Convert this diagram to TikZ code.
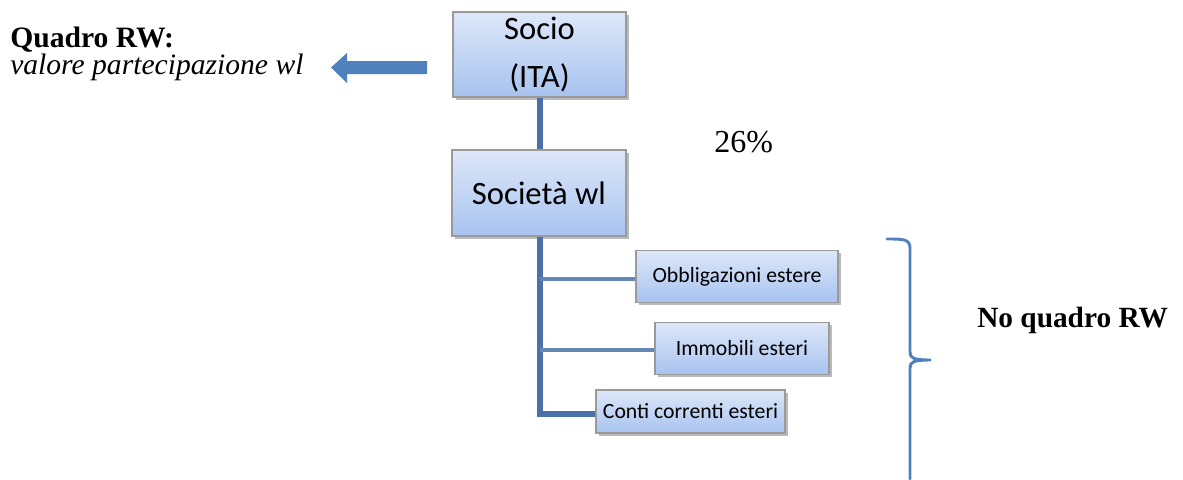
\documentclass[tikz,border=0pt]{standalone}
\usepackage{fontspec}
\setmainfont{Liberation Serif}
\newfontfamily\boxfont{Carlito}
\usetikzlibrary{shadows}
\definecolor{linkblue}{HTML}{4A72A8}
\definecolor{arrowblue}{HTML}{4F81BD}
\definecolor{boxtop}{HTML}{DDE7F9}
\definecolor{boxbot}{HTML}{A8C3F0}
\definecolor{boxline}{HTML}{9A9A9A}
\tikzset{
  orgbox/.style={draw=boxline, line width=0.8pt, top color=boxtop, bottom color=boxbot,
    drop shadow={shadow xshift=2pt, shadow yshift=-2pt, fill=black!45, opacity=0.6},
    inner sep=0pt, font=\boxfont},
  bigtxt/.style={font=\boxfont\fontsize{24.5}{36}\selectfont},
  smalltxt/.style={font=\boxfont\fontsize{16.3}{19}\selectfont},
  link/.style={draw=linkblue, line width=4pt},
  branch/.style={draw=linkblue!85, line width=3pt},
}
\begin{document}
\begin{tikzpicture}[x=0.75pt,y=-0.75pt]
\useasboundingbox (0,0) rectangle (1183,479);
% boxes
\node[orgbox, bigtxt, minimum width=173*0.75pt, minimum height=85*0.75pt, align=center] (socio) at (539.5,54.5) {Socio\\(ITA)};
\node[orgbox, bigtxt, minimum width=174*0.75pt, minimum height=86*0.75pt] (soc) at (539,193) {Società wl};
\node[orgbox, smalltxt, minimum width=202*0.75pt, minimum height=52*0.75pt] (obb) at (737,276.5) {Obbligazioni estere};
\node[orgbox, smalltxt, minimum width=174*0.75pt, minimum height=52*0.75pt] (imm) at (742,348.5) {Immobili esteri};
\node[orgbox, smalltxt, minimum width=189*0.75pt, minimum height=43*0.75pt] (con) at (690.5,411.5) {Conti correnti esteri};
% connectors
\coordinate (j1) at (540,279);
\coordinate (j2) at (540,350);
\coordinate (j3) at (540,414);
\draw[link] (socio.south -| 540,0) -- (soc.north -| 540,0);
\draw[link] (soc.south -| 540,0) -- (j3) -- (con.west |- j3);
\draw[branch] (j1) -- (obb.west |- j1);
\draw[branch] (j2) -- (imm.west |- j2);
% arrow
\fill[arrowblue] (427,61) -- (347,61) -- (347,53) -- (331,67.5) -- (347,83) -- (347,74) -- (427,74) -- cycle;
% texts
\node[anchor=base west, inner sep=0pt, font=\fontsize{22.2}{24}\selectfont\bfseries] (qrw) at (10,47) {Quadro RW:};
\node[anchor=base west, inner sep=0pt, font=\fontsize{22.2}{24}\selectfont\itshape] (val) at (10,74) {valore partecipazione wl};
\node[anchor=base west, inner sep=0pt, font=\fontsize{24}{28}\selectfont] (pct) at (714,152) {26\%};
\node[anchor=base west, inner sep=0pt, font=\fontsize{22}{24}\selectfont\bfseries] (noq) at (977,327) {No quadro RW};
% brace
\draw[arrowblue, line width=2.2pt, line cap=round] (887,239) .. controls (903,239) and (910,239) .. (910,248) -- (910,352) .. controls (910,358) and (913,360) .. (931,360) .. controls (913,360) and (910,362) .. (910,368) -- (910,479);
\end{tikzpicture}
\end{document}
